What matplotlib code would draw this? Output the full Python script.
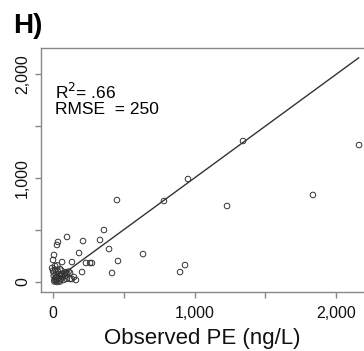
import matplotlib
matplotlib.use("Agg")
import matplotlib.pyplot as plt

plt.rcParams['font.family'] = ['Liberation Sans', 'DejaVu Sans']

# observed vs predicted PE (ng/L)
obs = [1343, 2163, 954, 1837, 1230, 933, 898, 452, 784, 360, 332, 396, 636,
       275, 459, 417, 212, 99, 35, 28, 184, 262, 233, 134, 64, 0, 7, 14, -7,
       205, 148, 134, 162, 120, 50, 30,
       10, 15, 20, 25, 30, 5, 40, 45, 50, 55, 60, 70, 80, 85, 90, 100, 110,
       120, 5, 0, 15, 35, 60, 10, 30, 50, 75, 95, 20, 65]
pred = [1356, 1317, 990, 837, 731, 163, 96, 788, 779, 500, 404, 317, 269,
        183, 202, 87, 394, 433, 385, 356, 279, 183, 183, 192, 192, 212, 260,
        154, 135, 96, 48, 29, 19, 29, 125, 160,
        20, 35, 10, 50, 25, 60, 40, 15, 70, 30, 55, 45, 80, 60, 95, 85, 100,
        90, 90, 110, 120, 100, 110, 5, 0, 5, 20, 30, 75, 80]
line_x = [80, 2160]
line_y = [85, 2155]
ticks = [0, 500, 1000, 1500, 2000]
tick_labels = ["0", "", "1,000", "", "2,000"]

fig = plt.figure(figsize=(3.64, 3.51), dpi=100)
ax = fig.add_axes([41/364, 59/351, 1 - 41/364, 244/351])

ax.scatter(obs, pred, s=16, facecolors='none', edgecolors='#333333',
           linewidths=0.7, zorder=3)
ax.plot(line_x, line_y, color='#333333', linewidth=1.0, zorder=2)

ax.set_xlim(-85, 2198)
ax.set_ylim(-96, 2250)
ax.set_xticks(ticks)
ax.set_xticklabels(tick_labels)
ax.set_yticks(ticks)
ax.set_yticklabels(tick_labels, rotation=90, va='center')

for s in ['left', 'bottom', 'top']:
    ax.spines[s].set_color('#888888')
    ax.spines[s].set_linewidth(1.0)
ax.spines['right'].set_visible(False)
ax.tick_params(direction='out', length=4, width=1, color='#888888',
               labelsize=11.5, labelcolor='#111111')
ax.tick_params(axis='x', pad=6)
ax.tick_params(axis='y', pad=4)

ax.set_xlabel("Observed PE (ng/L)", fontsize=16, color='#111111', labelpad=5)

ax.text(0.043, 0.86, "R$^2$= .66\nRMSE  = 250", transform=ax.transAxes,
        fontsize=12.5, va='top', ha='left', linespacing=1.0)
fig.text(13/364, 1 - 33/351, "H)", fontsize=20, fontweight='bold',
         ha='left', va='baseline')

fig.savefig("out.png", dpi=100)
